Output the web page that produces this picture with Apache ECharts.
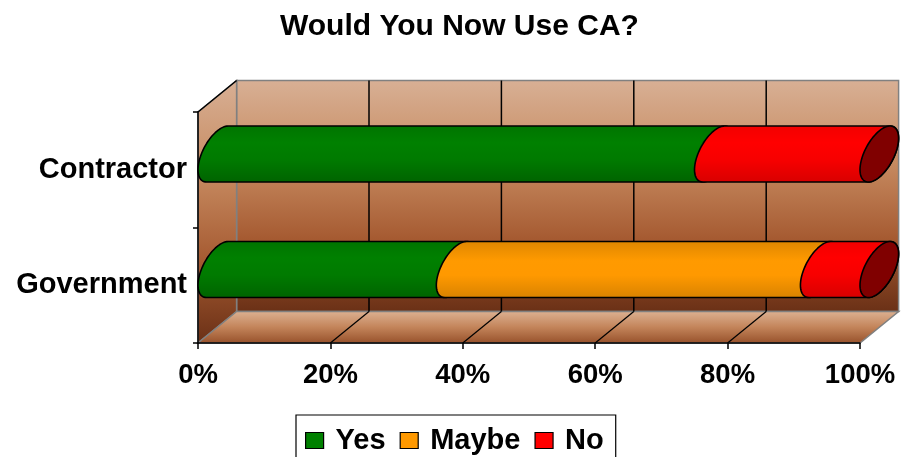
<!DOCTYPE html>
<html>
<head>
<meta charset="utf-8">
<script src="https://cdn.jsdelivr.net/npm/echarts@6/dist/echarts.min.js"></script>
<style>
html,body{margin:0;padding:0;background:#fff;}
#chart{width:901px;height:457px;}
</style>
</head>
<body>
<div id="chart"></div>
<script>
// ---- data ----
const categories = ['Government', 'Contractor']; // bottom to top
const seriesNames = ['Yes', 'Maybe', 'No'];
const yesValues = [36, 75];
const maybeValues = [55, 0];
const noValues = [9, 25];
const xTicks = [0, 20, 40, 60, 80, 100];
const titleText = 'Would You Now Use CA?';

// ---- styling constants ----
const DX = 38.6, DY = -31.5;          // depth projection of the 3D box
const FONT = '"Liberation Sans", Arial, sans-serif';
const seriesColors = ['#008000', '#FF9900', '#FF0000'];
const seriesGrad = [
  [[0, '#007400'], [0.3, '#008000'], [0.6, '#007A00'], [1, '#006300']],
  [[0, '#DE8600'], [0.35, '#FF9A00'], [0.6, '#FF9900'], [1, '#D88200']],
  [[0, '#F20000'], [0.3, '#FF0000'], [0.6, '#F70000'], [1, '#D80000']]
];
const capColor = '#800000';

const allValues = [yesValues, maybeValues, noValues];
const totals = categories.map((c, i) => allValues.reduce((s, arr) => s + arr[i], 0));

function ellipsePts(cx, cy, A, BX, BY, t0, t1, n) {
  const pts = [];
  for (let k = 0; k <= n; k++) {
    const t = t0 + (t1 - t0) * k / n;
    pts.push([cx + Math.sin(t) * BX, cy - Math.cos(t) * A + Math.sin(t) * BY]);
  }
  return pts;
}

function makeBarRender(si) {
  return function (params, api) {
    const start = api.value(0), end = api.value(1), cat = api.value(2);
    if (end - start <= 0) return null;
    const p0 = api.coord([start, cat]);
    const p1 = api.coord([end, cat]);
    const band = api.size([0, 1])[1];
    const H = band * 0.2424;
    const BX = DX / 2, BY = DY / 2;
    const A = Math.sqrt(Math.max(H * H - BY * BY, 1));
    const tTop = Math.atan2(-BY, A);
    const tBot = tTop + Math.PI;
    const c0 = [p0[0] + DX / 2, p0[1] + DY / 2];
    const c1 = [p1[0] + DX / 2, p1[1] + DY / 2];
    const left = ellipsePts(c0[0], c0[1], A, BX, BY, tBot, tTop + 2 * Math.PI, 40);
    const right = ellipsePts(c1[0], c1[1], A, BX, BY, tTop, tBot, 40);
    const children = [{
      type: 'polygon',
      shape: { points: left.concat(right) },
      style: {
        fill: new echarts.graphic.LinearGradient(0, 0, 0, 1,
          seriesGrad[si].map(s => ({ offset: s[0], color: s[1] }))),
        stroke: '#000', lineWidth: 1.6, lineJoin: 'round'
      }
    }];
    if (end >= totals[cat] - 1e-9) {
      children.push({
        type: 'polygon',
        shape: { points: ellipsePts(c1[0], c1[1], A, BX, BY, 0, 2 * Math.PI, 80) },
        style: { fill: capColor, stroke: '#000', lineWidth: 1.6 }
      });
    }
    return { type: 'group', children: children };
  };
}

function wallsRender(params, api) {
  const cs = params.coordSys;
  const x = cs.x, y = cs.y, w = cs.width, h = cs.height;
  const wallGrad = () => new echarts.graphic.LinearGradient(0, 0, 0, 1, [
    { offset: 0, color: '#D8B095' }, { offset: 0.35, color: '#C78B61' },
    { offset: 0.68, color: '#A65B32' }, { offset: 1, color: '#6A3016' }]);
  const floorGrad = new echarts.graphic.LinearGradient(0, 0, 0, 1, [
    { offset: 0, color: '#DDB293' }, { offset: 0.5, color: '#C3845A' },
    { offset: 1, color: '#96502A' }]);
  const children = [];
  children.push({ type: 'rect', shape: { x: x + DX, y: y + DY, width: w, height: h },
    style: { fill: wallGrad(), stroke: '#808080', lineWidth: 1.5 } });
  children.push({ type: 'polygon',
    shape: { points: [[x, y], [x + DX, y + DY], [x + DX, y + h + DY], [x, y + h]] },
    style: { fill: wallGrad(), stroke: '#808080', lineWidth: 1.5 } });
  children.push({ type: 'polygon',
    shape: { points: [[x, y + h], [x + w, y + h], [x + w + DX, y + h + DY], [x + DX, y + h + DY]] },
    style: { fill: floorGrad, stroke: '#808080', lineWidth: 1.5 } });
  children.push({ type: 'line', shape: { x1: x, y1: y, x2: x + DX, y2: y + DY },
    style: { stroke: '#000', lineWidth: 1.5 } });
  xTicks.forEach(v => {
    if (v <= xTicks[0] || v >= xTicks[xTicks.length - 1]) return;
    const fx = api.coord([v, 0])[0];
    children.push({ type: 'line', shape: { x1: fx + DX, y1: y + DY, x2: fx + DX, y2: y + h + DY },
      style: { stroke: '#000', lineWidth: 1.5 } });
    children.push({ type: 'line', shape: { x1: fx, y1: y + h, x2: fx + DX, y2: y + h + DY },
      style: { stroke: '#000', lineWidth: 1.2 } });
  });
  return { type: 'group', children: children };
}

const barSeries = seriesNames.map((name, si) => {
  const data = categories.map((c, ci) => {
    let s = 0;
    for (let k = 0; k < si; k++) s += allValues[k][ci];
    return [s, s + allValues[si][ci], ci];
  });
  return {
    name: name,
    type: 'custom',
    coordinateSystem: 'cartesian2d',
    renderItem: makeBarRender(si),
    encode: { x: [0, 1], y: 2 },
    data: data,
    itemStyle: { color: seriesColors[si] },
    z: 4,
    silent: true
  };
});

const chart = echarts.init(document.getElementById('chart'), null, { renderer: 'canvas' });
chart.setOption({
  animation: false,
  backgroundColor: '#ffffff',
  title: {
    text: titleText,
    left: 275, top: 7,
    textStyle: { fontFamily: FONT, fontWeight: 'bold', fontSize: 30, color: '#000' }
  },
  grid: { left: 198, right: 41, top: 112, bottom: 114, containLabel: false },
  xAxis: {
    type: 'value', min: xTicks[0], max: xTicks[xTicks.length - 1], interval: 20,
    z: 3,
    axisLine: { show: true, lineStyle: { color: '#000', width: 1.5 } },
    axisTick: { show: true, length: 6, lineStyle: { color: '#000', width: 1.5 } },
    splitLine: { show: false },
    axisLabel: { formatter: '{value}%', margin: 18, color: '#000',
      fontFamily: FONT, fontWeight: 'bold', fontSize: 27.5 }
  },
  yAxis: {
    type: 'category', data: categories,
    z: 3,
    axisLine: { show: true, lineStyle: { color: '#000', width: 1.5 } },
    axisTick: { show: true, length: 5, lineStyle: { color: '#000', width: 1.5 } },
    splitLine: { show: false },
    axisLabel: { margin: 11, color: '#000', fontFamily: FONT, fontWeight: 'bold', fontSize: 29 }
  },
  legend: {
    data: seriesNames,
    left: 296, top: 415,
    orient: 'horizontal',
    icon: 'rect',
    itemWidth: 18, itemHeight: 16, itemGap: 14,
    padding: [11, 12, 10, 9],
    borderColor: '#000', borderWidth: 1.2,
    selectedMode: false,
    itemStyle: { borderColor: '#000', borderWidth: 1.2 },
    textStyle: { fontFamily: FONT, fontWeight: 'bold', fontSize: 29, color: '#000', padding: [0, 0, 0, 7] }
  },
  series: [{
    name: 'walls',
    type: 'custom',
    coordinateSystem: 'cartesian2d',
    renderItem: wallsRender,
    data: [[0, 0]],
    encode: { x: 0, y: 1 },
    z: 1,
    silent: true
  }].concat(barSeries)
});
</script>
</body>
</html>
